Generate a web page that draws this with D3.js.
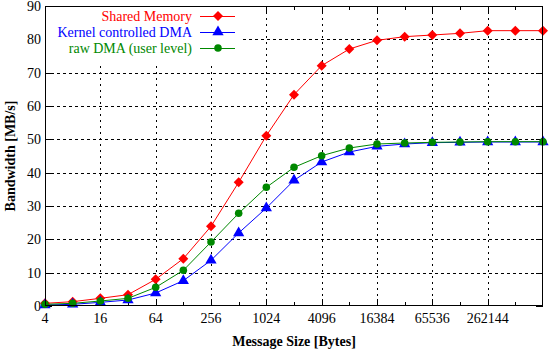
<!DOCTYPE html>
<html>
<head>
<meta charset="utf-8">
<script src="https://cdn.jsdelivr.net/npm/d3@7"></script>
<style>
  body { margin: 0; background: #fff; }
  svg text { font-family: "Liberation Serif", "DejaVu Serif", "Times New Roman", Times, serif; }
</style>
</head>
<body>
<div id="chart"></div>
<script>
// message sizes in bytes (x values)
const sizes = [4, 8, 16, 32, 64, 128, 256, 512, 1024, 2048, 4096, 8192, 16384, 32768, 65536, 131072, 262144, 524288, 1048576];

// bandwidth in MB/s
const sharedMem = [0.8, 1.3, 2.3, 3.4, 8.0, 14.2, 23.9, 37.1, 51.1, 63.4, 72.1, 77.1, 79.7, 80.8, 81.3, 81.8, 82.6, 82.6, 82.6];
const kernelDma = [0.3, 0.5, 1.1, 1.8, 3.9, 7.6, 13.7, 21.9, 29.4, 37.7, 43.2, 46.2, 47.9, 48.6, 49.0, 49.1, 49.2, 49.2, 49.2];
const rawDma    = [0.5, 0.8, 1.5, 2.3, 5.6, 10.7, 19.2, 27.8, 35.6, 41.6, 45.1, 47.4, 48.6, 48.9, 49.1, 49.2, 49.3, 49.3, 49.3];

const seriesNames = ["Shared Memory", "Kernel controlled DMA", "raw DMA (user level)"];
const xTickLabels = [4, 16, 64, 256, 1024, 4096, 16384, 65536, 262144];
const xMinorTicks = [8, 32, 128, 512, 2048, 8192, 32768, 131072, 524288];
const yTicks = [0, 10, 20, 30, 40, 50, 60, 70, 80, 90];

function createPlot() {
  const margin = { top: 6, right: 7, bottom: 47, left: 45 };
  const width = 550 - margin.left - margin.right;
  const height = 353 - margin.top - margin.bottom;
  const serif = "'Liberation Serif', 'DejaVu Serif', serif";

  const svg = d3.select("#chart").append("svg")
      .attr("width", 550)
      .attr("height", 353)
    .append("g")
      .attr("transform", `translate(${margin.left},${margin.top})`);

  const x = d3.scaleLog().base(2)
      .domain([4, 1048576])
      .range([0, width]);

  const y = d3.scaleLinear()
      .domain([0, 90])
      .range([height, 0]);

  // --- grid ---
  svg.append("g").selectAll("line")
      .data(yTicks.filter(d => d > 0 && d < 90))
      .join("line")
      .attr("x1", 0).attr("x2", width)
      .attr("y1", d => Math.round(y(d)) + 0.5).attr("y2", d => Math.round(y(d)) + 0.5)
      .style("stroke", "#000")
      .style("stroke-dasharray", "3,3");

  svg.append("g").selectAll("line")
      .data(xTickLabels.filter(d => d > 4))
      .join("line")
      .attr("x1", d => Math.round(x(d)) + 0.5).attr("x2", d => Math.round(x(d)) + 0.5)
      .attr("y1", 0).attr("y2", height)
      .style("stroke", "#000")
      .style("stroke-dasharray", "2,4");

  // --- ticks (inward, mirrored) ---
  const ticks = svg.append("g").style("stroke", "#000");
  yTicks.forEach(t => {
    const py = Math.round(y(t)) + 0.5;
    ticks.append("line").attr("x1", 0).attr("x2", 7).attr("y1", py).attr("y2", py);
    ticks.append("line").attr("x1", width - 7).attr("x2", width).attr("y1", py).attr("y2", py);
  });
  xTickLabels.forEach(t => {
    const px = Math.round(x(t)) + 0.5;
    ticks.append("line").attr("x1", px).attr("x2", px).attr("y1", height).attr("y2", height - 7);
    ticks.append("line").attr("x1", px).attr("x2", px).attr("y1", 0).attr("y2", 7);
  });
  xMinorTicks.forEach(t => {
    const px = Math.round(x(t)) + 0.5;
    ticks.append("line").attr("x1", px).attr("x2", px).attr("y1", height).attr("y2", height - 4);
    ticks.append("line").attr("x1", px).attr("x2", px).attr("y1", 0).attr("y2", 4);
  });

  // --- tick labels ---
  svg.append("g").selectAll("text")
      .data(yTicks)
      .join("text")
      .attr("x", -4)
      .attr("y", d => y(d))
      .attr("dy", "0.35em")
      .style("font-family", serif)
      .style("text-anchor", "end")
      .style("font-size", "14px")
      .text(d => d);

  svg.append("g").selectAll("text")
      .data(xTickLabels)
      .join("text")
      .attr("x", d => x(d))
      .attr("y", height + 17)
      .style("font-family", serif)
      .style("text-anchor", "middle")
      .style("font-size", "14px")
      .text(d => d);

  // --- axis titles ---
  svg.append("text")
      .attr("x", width / 2)
      .attr("y", height + 40)
      .style("font-family", serif)
      .style("text-anchor", "middle")
      .style("font-size", "14px")
      .style("font-weight", "bold")
      .text("Message Size [Bytes]");

  svg.append("text")
      .attr("transform", `translate(${-30},${height / 2}) rotate(-90)`)
      .style("font-family", serif)
      .style("text-anchor", "middle")
      .style("font-size", "14px")
      .style("font-weight", "bold")
      .text("Bandwidth [MB/s]");

  // --- series ---
  const diamond = "M0,-5L5,0L0,5L-5,0Z";
  const triangle = d3.symbol().type(d3.symbolTriangle).size(55)();
  const circle = d3.symbol().type(d3.symbolCircle).size(45)();

  const series = [
    { name: seriesNames[0], values: sharedMem, color: "#ff0000", marker: diamond },
    { name: seriesNames[1], values: kernelDma, color: "#0000ff", marker: triangle },
    { name: seriesNames[2], values: rawDma, color: "#008800", marker: circle }
  ];

  const line = d3.line()
      .x((d, i) => x(sizes[i]))
      .y(d => y(d));

  series.forEach(s => {
    svg.append("path")
        .datum(s.values)
        .attr("d", line)
        .style("fill", "none")
        .style("stroke", s.color)
        .style("stroke-width", 1);
  });

  series.forEach(s => {
    svg.append("g").selectAll("path")
        .data(s.values)
        .join("path")
        .attr("transform", (d, i) => `translate(${x(sizes[i])},${y(d)})`)
        .attr("d", s.marker)
        .style("fill", s.color);
  });

  // --- legend ---
  svg.append("rect")
      .attr("x", 1).attr("y", 1)
      .attr("width", 197).attr("height", 56)
      .style("fill", "#fff");

  const legend = svg.append("g");
  series.forEach((s, i) => {
    const ly = 10 + i * 16;
    legend.append("text")
        .attr("x", 147)
        .attr("y", ly)
        .attr("dy", "0.35em")
        .style("font-family", serif)
        .style("text-anchor", "end")
        .style("font-size", "14px")
        .style("fill", s.color)
        .text(s.name);
    legend.append("line")
        .attr("x1", 155).attr("x2", 190)
        .attr("y1", ly + 0.5).attr("y2", ly + 0.5)
        .style("stroke", s.color);
    legend.append("path")
        .attr("transform", `translate(173,${ly})`)
        .attr("d", s.marker)
        .style("fill", s.color);
  });

  // --- frame ---
  svg.append("rect")
      .attr("x", 0.5).attr("y", 0.5)
      .attr("width", width - 1).attr("height", height - 1)
      .style("fill", "none")
      .style("stroke", "#000");
}

createPlot();
</script>
</body>
</html>
